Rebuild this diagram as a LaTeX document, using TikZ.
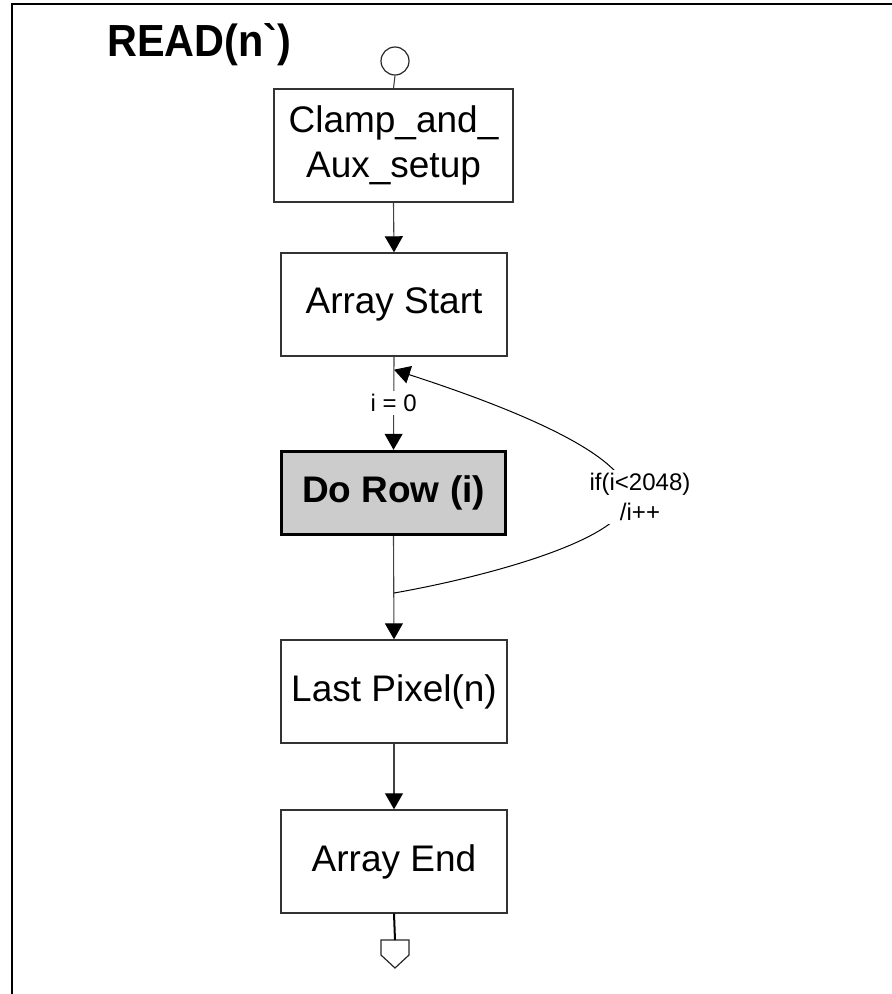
\documentclass[tikz,border=0pt]{standalone}
\usepackage{fontspec}
\setmainfont{Liberation Sans}
\newfontfamily\titlefont{Liberation Sans}[Ligatures=TeXOff]
\usetikzlibrary{arrows.meta,calc}

\tikzset{
  stepbox/.style={draw=black!80, line width=1.4pt, fill=white, inner sep=0pt,
    minimum width=226pt, minimum height=103pt,
    font=\fontsize{37}{45}\selectfont, align=center},
  callbox/.style={stepbox, draw=black, line width=3.4pt, fill=black!20,
    minimum width=224pt, minimum height=83pt,
    font=\fontsize{37}{45}\selectfont\bfseries},
  flow/.style={draw=black!75, line width=1.1pt},
  flowarrow/.style={flow, -{Triangle[length=16pt,width=18pt,color=black]}},
  edgelabel/.style={fill=white, inner sep=3pt, font=\fontsize{24}{30}\selectfont, align=center}
}

\begin{document}
\begin{tikzpicture}[x=1pt, y=-1pt]
  \useasboundingbox (0,0) rectangle (892,994);

  % frame
  \draw[line width=2pt] (892,4) -- (12,4) -- (12,994);

  % title
  \node[anchor=base west, inner sep=0pt, xscale=0.92,
    font=\titlefont\fontsize{45}{52}\selectfont\bfseries]
    (title) at (107,56) {READ(n`)};

  % start terminal
  \node[draw=black!85, line width=1.2pt, circle, minimum size=28pt, inner sep=0pt]
    (start) at (395,61) {};

  % process boxes
  \node[stepbox, minimum width=239pt, minimum height=113pt] (clamp) at (393.5,145.5)
    {Clamp\_and\_\\Aux\_setup};
  \node[stepbox] (astart) at (394,304.5) {Array Start};
  \node[callbox] (row) at (393.5,493) {Do Row (i)};
  \node[stepbox] (last) at (394,691.5) {Last Pixel(n)};
  \node[stepbox] (aend) at (394,861.5) {Array End};

  % end terminal (off-page connector)
  \coordinate (endp) at (395,940);
  \draw[draw=black!85, line width=1.2pt]
    ($(endp)+(-14,0)$) -- ($(endp)+(14,0)$) -- ($(endp)+(14,15)$) --
    ($(endp)+(0,28)$) -- ($(endp)+(-14,15)$) -- cycle;

  % connectors
  \draw[flow] (start.south) -- (clamp.north);
  \draw[flowarrow] (clamp.south) -- (astart.north);
  \draw[flowarrow] (astart.south) -- node[edgelabel] (init) {i = 0} (row.north);
  \draw[flowarrow] (row.south) -- (last.north);
  \draw[flowarrow] (last.south) -- (aend.north);
  \draw[flow, draw=black, line width=2pt] (aend.south) -- (endp);

  % loop back to the row step
  \coordinate (join) at (394,593);
  \coordinate (back) at ($(astart.south)+(0,13)$);
  \coordinate (turn) at (628,497);
  \draw[flowarrow, draw=black, line width=1pt]
    (join) .. controls (480,578) and (628,540) .. (turn)
           .. controls (628,450) and (484,399) .. (back);
  \node[edgelabel] (cond) at ($(turn)+(12,0)$) {if(i<2048)\\/i++};
\end{tikzpicture}
\end{document}
